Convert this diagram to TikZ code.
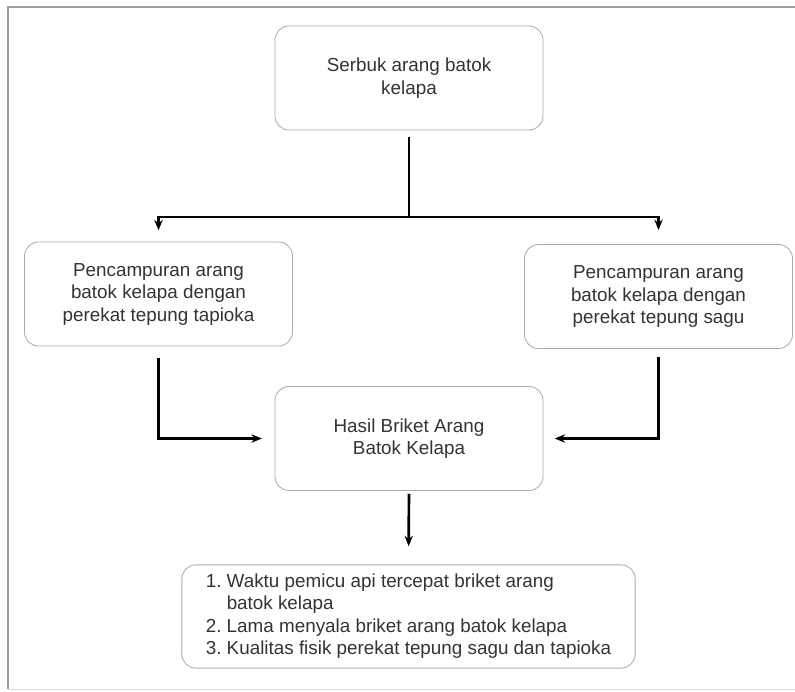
\documentclass[tikz,border=0pt]{standalone}
\usepackage{fontspec}
\setmainfont{Liberation Sans}
\usetikzlibrary{arrows.meta, positioning}
\definecolor{boxline}{HTML}{ABABAB}
\definecolor{txtgray}{HTML}{333333}
\definecolor{framegray}{HTML}{A0A0A0}

\begin{document}
\begin{tikzpicture}[
    x=0.025cm, y=-0.025cm,
    >={Stealth[length=2.6mm, width=2.1mm]},
    every node/.style={text=txtgray, font=\fontsize{13.4}{16}\selectfont},
    flowbox/.style={draw=boxline, line width=0.6pt, rounded corners=10pt,
      align=center, minimum width=6.7cm, minimum height=2.6cm, inner sep=0pt},
    flowline/.style={black, line width=1.9pt},
  ]

  % Frame
  \useasboundingbox (0,0) rectangle (795,691);
  \draw[framegray, line width=1pt] (8,689) -- (8,7) -- (800,7);
  \draw[framegray!40, line width=0.6pt] (8,689) -- (800,689);

  % Boxes
  \node[flowbox] (serbuk) at (409,78) {Serbuk arang batok\\kelapa};
  \node[flowbox] (tapioka) at (158.5,294)
    {Pencampuran arang\\batok kelapa dengan\\perekat tepung tapioka};
  \node[flowbox] (sagu) at (658.5,296.5)
    {Pencampuran arang\\batok kelapa dengan\\perekat tepung sagu};
  \node[flowbox] (hasil) at (409,438.5) {Hasil Briket Arang\\Batok Kelapa};
  \node[flowbox, minimum width=11.33cm, minimum height=2.58cm] (uji) at (408.5,616.5)
    {\begin{tabular}{@{}r@{\ }l@{}}
       1. & Waktu pemicu api tercepat briket arang\\
          & batok kelapa\\
       2. & Lama menyala briket arang batok kelapa\\
       3. & Kualitas fisik perekat tepung sagu dan tapioka
     \end{tabular}};

  % Connectors
  \coordinate (cabang) at (409,217);
  \draw[flowline, shorten <=5pt] (serbuk.south) -- (cabang);
  \draw[flowline, ->, shorten >=8pt] (cabang) -| (tapioka.north);
  \draw[flowline, ->, shorten >=10pt] (cabang) -| (sagu.north);
  \draw[flowline, ->, shorten <=8pt, shorten >=9pt] (tapioka.south) |- (hasil.west);
  \draw[flowline, ->, shorten <=6pt, shorten >=8pt] (sagu.south) |- (hasil.east);
  \draw[flowline, ->, shorten <=2pt, shorten >=13pt] (hasil.south) -- (uji.north);

\end{tikzpicture}
\end{document}
